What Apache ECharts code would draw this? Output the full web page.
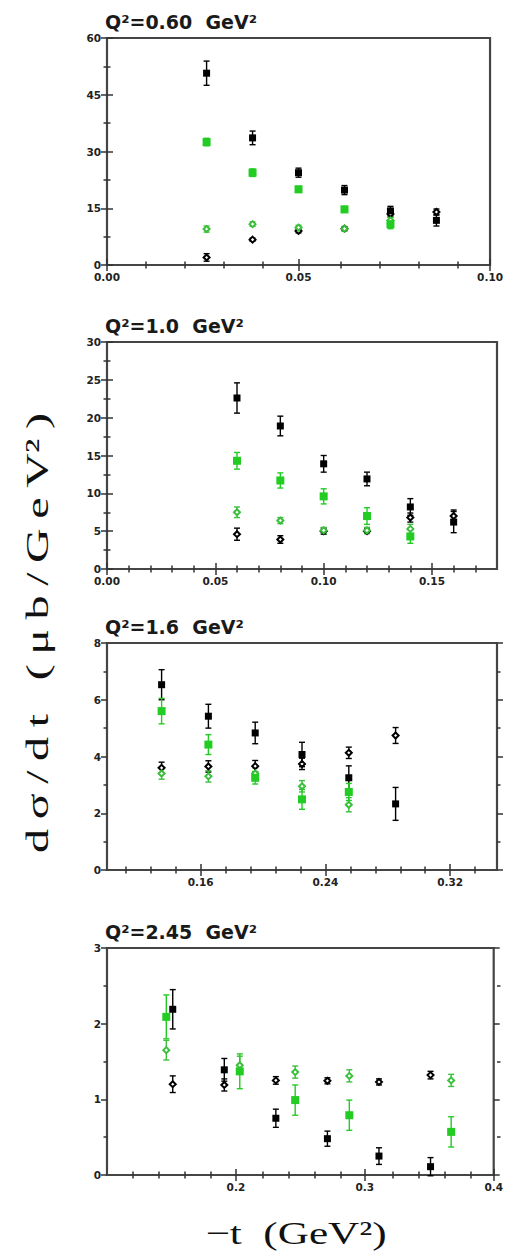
<!DOCTYPE html>
<html><head><meta charset="utf-8">
<script src="https://cdn.jsdelivr.net/npm/echarts@6/dist/echarts.min.js"></script>
<style>html,body{margin:0;padding:0;background:#fff}#c{width:506px;height:1251px}</style>
</head><body><div id="c"></div>
<script>
// ================= DATA =================
// Panel 1: Q^2 = 0.60 GeV^2
const q060_title = 'Q²=0.60  GeV²';
const q060_t = [0.026, 0.038, 0.050, 0.062, 0.074, 0.086];
const q060_tGreen = [0.026, 0.038, 0.050, 0.062, 0.074];
const q060_blackFilled = [50.7, 33.6, 24.4, 19.8, 14.3, 11.8];
const q060_blackFilledErr = [3.2, 1.8, 1.2, 1.2, 1.2, 1.5];
const q060_greenFilled = [32.5, 24.4, 20.0, 14.7, 10.8];
const q060_greenFilledErr = [1.0, 1.0, 0.8, 0.8, 1.2];
const q060_greenOpen = [9.5, 10.8, 9.9, 9.6, 11.8];
const q060_greenOpenErr = [0.8, 0.6, 0.6, 0.6, 0.8];
const q060_blackOpen = [2.0, 6.7, 9.0, 9.6, 13.5, 14.0];
const q060_blackOpenErr = [1.0, 0.4, 0.5, 0.5, 0.8, 0.8];
const q060_xLabels = [0, 0.05, 0.10];
const q060_xMinor = [0.01, 0.02, 0.03, 0.04, 0.06, 0.07, 0.08, 0.09];
const q060_yLabels = [0, 15, 30, 45, 60];
const q060_yMinor = [7.5, 22.5, 37.5, 52.5];

// Panel 2: Q^2 = 1.0 GeV^2
const q100_title = 'Q²=1.0  GeV²';
const q100_t = [0.06, 0.08, 0.10, 0.12, 0.14, 0.16];
const q100_tGreen = [0.06, 0.08, 0.10, 0.12, 0.14];
const q100_blackFilled = [22.6, 18.9, 13.9, 11.9, 8.2, 6.2];
const q100_blackFilledErr = [2.0, 1.3, 1.1, 0.9, 1.1, 1.4];
const q100_greenFilled = [14.3, 11.7, 9.6, 7.0, 4.3];
const q100_greenFilledErr = [1.1, 1.0, 1.0, 1.1, 0.9];
const q100_greenOpen = [7.5, 6.4, 5.1, 5.1, 5.3];
const q100_greenOpenErr = [0.7, 0.4, 0.4, 0.4, 0.6];
const q100_blackOpen = [4.6, 3.9, 5.0, 5.0, 6.8, 7.0];
const q100_blackOpenErr = [0.8, 0.5, 0.4, 0.3, 0.6, 0.8];
const q100_xLabels = [0, 0.05, 0.10, 0.15];
const q100_xMinor = [0.01, 0.02, 0.03, 0.04, 0.06, 0.07, 0.08, 0.09, 0.11, 0.12, 0.13, 0.14, 0.16, 0.17];
const q100_yLabels = [0, 5, 10, 15, 20, 25, 30];
const q100_yMinor = [2.5, 7.5, 12.5, 17.5, 22.5, 27.5];

// Panel 3: Q^2 = 1.6 GeV^2
const q160_title = 'Q²=1.6  GeV²';
const q160_t = [0.135, 0.165, 0.195, 0.225, 0.255, 0.285];
const q160_tGreen = [0.135, 0.165, 0.195, 0.225, 0.255];
const q160_blackFilled = [6.53, 5.42, 4.83, 4.07, 3.25, 2.33];
const q160_blackFilledErr = [0.53, 0.42, 0.38, 0.43, 0.42, 0.58];
const q160_greenFilled = [5.6, 4.42, 3.25, 2.49, 2.75];
const q160_greenFilledErr = [0.45, 0.35, 0.22, 0.35, 0.3];
const q160_greenOpen = [3.4, 3.3, 3.4, 2.95, 2.3];
const q160_greenOpenErr = [0.2, 0.2, 0.2, 0.2, 0.25];
const q160_blackOpen = [3.6, 3.65, 3.66, 3.74, 4.13, 4.74];
const q160_blackOpenErr = [0.2, 0.2, 0.2, 0.2, 0.2, 0.28];
const q160_xLabels = [0.16, 0.24, 0.32];
const q160_xMinor = [0.112, 0.128, 0.144, 0.176, 0.192, 0.208, 0.224, 0.256, 0.272, 0.288, 0.304, 0.336];
const q160_yLabels = [0, 2, 4, 6, 8];
const q160_yMinor = [1, 3, 5, 7];

// Panel 4: Q^2 = 2.45 GeV^2
const q245_title = 'Q²=2.45  GeV²';
const q245_t = [0.151, 0.191, 0.231, 0.271, 0.311, 0.351];
const q245_tGreen = [0.146, 0.203, 0.246, 0.288, 0.367];
const q245_blackFilled = [2.19, 1.39, 0.75, 0.48, 0.25, 0.11];
const q245_blackFilledErr = [0.26, 0.15, 0.12, 0.10, 0.11, 0.12];
const q245_greenFilled = [2.09, 1.37, 0.99, 0.79, 0.57];
const q245_greenFilledErr = [0.29, 0.23, 0.20, 0.20, 0.20];
const q245_greenOpen = [1.65, 1.45, 1.36, 1.31, 1.25];
const q245_greenOpenErr = [0.13, 0.12, 0.08, 0.08, 0.08];
const q245_blackOpen = [1.20, 1.19, 1.25, 1.245, 1.23, 1.32];
const q245_blackOpenErr = [0.11, 0.08, 0.05, 0.04, 0.04, 0.05];
const q245_xLabels = [0.2, 0.3, 0.4];
const q245_xMinor = [0.12, 0.14, 0.16, 0.18, 0.22, 0.24, 0.26, 0.28, 0.32, 0.34, 0.36, 0.38];
const q245_yLabels = [0, 1, 2, 3];
const q245_yMinor = [0.5, 1.5, 2.5];

const yTitle = 'd\u2009σ\u2009/\u2009d\u2009t\u2002\u2009(\u2009μ\u2009b\u2009/\u2009G\u2009e\u2009V²\u2009)';
const xTitle = '−t  (GeV²)';

// ================= BUILD =================
const panels = [
  {title: q060_title, xr: [0, 0.10], yr: [0, 60], xd: 2, xLab: q060_xLabels, xMin: q060_xMinor, yLab: q060_yLabels, yMin: q060_yMinor,
   series: [[q060_t, q060_blackOpen, q060_blackOpenErr, 'bo'], [q060_tGreen, q060_greenOpen, q060_greenOpenErr, 'go'],
            [q060_t, q060_blackFilled, q060_blackFilledErr, 'bf'], [q060_tGreen, q060_greenFilled, q060_greenFilledErr, 'gf']]},
  {title: q100_title, xr: [0, 0.18], yr: [0, 30], xd: 2, xLab: q100_xLabels, xMin: q100_xMinor, yLab: q100_yLabels, yMin: q100_yMinor,
   series: [[q100_t, q100_blackOpen, q100_blackOpenErr, 'bo'], [q100_tGreen, q100_greenOpen, q100_greenOpenErr, 'go'],
            [q100_t, q100_blackFilled, q100_blackFilledErr, 'bf'], [q100_tGreen, q100_greenFilled, q100_greenFilledErr, 'gf']]},
  {title: q160_title, xr: [0.10, 0.35], yr: [0, 8], xd: 2, xLab: q160_xLabels, xMin: q160_xMinor, yLab: q160_yLabels, yMin: q160_yMinor,
   series: [[q160_t, q160_blackOpen, q160_blackOpenErr, 'bo'], [q160_tGreen, q160_greenOpen, q160_greenOpenErr, 'go'],
            [q160_t, q160_blackFilled, q160_blackFilledErr, 'bf'], [q160_tGreen, q160_greenFilled, q160_greenFilledErr, 'gf']]},
  {title: q245_title, xr: [0.10, 0.40], yr: [0, 3], xd: 1, xLab: q245_xLabels, xMin: q245_xMinor, yLab: q245_yLabels, yMin: q245_yMinor,
   series: [[q245_t, q245_blackOpen, q245_blackOpenErr, 'bo'], [q245_tGreen, q245_greenOpen, q245_greenOpenErr, 'go'],
            [q245_t, q245_blackFilled, q245_blackFilledErr, 'bf'], [q245_tGreen, q245_greenFilled, q245_greenFilledErr, 'gf']]}
];

const GREEN = '#22cc22';
const GREEN_OPEN = '#3cbf3c';
const STY = {
  bf: {symbol: 'rect', size: 7, color: '#000000'},
  gf: {symbol: 'rect', size: 8, color: GREEN},
  bo: {symbol: 'emptyDiamond', size: 6, color: '#000000'},
  go: {symbol: 'emptyDiamond', size: 6, color: GREEN_OPEN}
};

const gridTops = [38, 342, 643, 948];
const GRID_LEFT = 107, GRID_RIGHT = 9, GRID_H = 227;
const FRAME = '#454545';
const tickStyle = {color: '#333', width: 1.5};
const labelStyle = {fontFamily: 'DejaVu Sans', fontWeight: 'bold', fontSize: 10.5, color: '#222', margin: 6};

const grids = [], xAxes = [], yAxes = [], series = [], graphics = [];

function errRender(color) {
  return function (params, api) {
    const x = api.value(0), y = api.value(1), e = api.value(2);
    const lo = api.coord([x, y - e]);
    const hi = api.coord([x, y + e]);
    const w = 3;
    const st = {stroke: color, lineWidth: 1.4};
    return {type: 'group', children: [
      {type: 'line', shape: {x1: lo[0], y1: lo[1], x2: hi[0], y2: hi[1]}, style: st},
      {type: 'line', shape: {x1: lo[0] - w, y1: lo[1], x2: lo[0] + w, y2: lo[1]}, style: st},
      {type: 'line', shape: {x1: hi[0] - w, y1: hi[1], x2: hi[0] + w, y2: hi[1]}, style: st}
    ]};
  };
}

panels.forEach((p, i) => {
  const top = gridTops[i];
  grids.push({left: GRID_LEFT, right: GRID_RIGHT, top: top, height: GRID_H, show: true,
              borderColor: FRAME, borderWidth: 2.2, backgroundColor: 'transparent'});
  grids.push({left: GRID_LEFT, right: GRID_RIGHT, top: top, height: GRID_H, show: false});
  const gMain = 2 * i, gOver = 2 * i + 1;
  const xb = {type: 'value', min: p.xr[0], max: p.xr[1], splitLine: {show: false}, axisLine: {show: false}};
  const yb = {type: 'value', min: p.yr[0], max: p.yr[1], splitLine: {show: false}, axisLine: {show: false}};
  xAxes.push(Object.assign({}, xb, {gridIndex: gMain, position: 'bottom',
    axisTick: {show: true, length: 6, customValues: p.xLab, lineStyle: tickStyle},
    axisLabel: Object.assign({show: true, customValues: p.xLab, formatter: v => Number(v).toFixed(p.xd)}, labelStyle)}));
  xAxes.push(Object.assign({}, xb, {gridIndex: gMain, position: 'top',
    axisTick: {show: true, length: 6, customValues: p.xLab, lineStyle: tickStyle}, axisLabel: {show: false}}));
  xAxes.push(Object.assign({}, xb, {gridIndex: gOver, position: 'bottom',
    axisTick: {show: true, length: 3.5, customValues: p.xMin, lineStyle: tickStyle}, axisLabel: {show: false}}));
  xAxes.push(Object.assign({}, xb, {gridIndex: gOver, position: 'top',
    axisTick: {show: true, length: 3.5, customValues: p.xMin, lineStyle: tickStyle}, axisLabel: {show: false}}));
  yAxes.push(Object.assign({}, yb, {gridIndex: gMain, position: 'left',
    axisTick: {show: true, length: 6, customValues: p.yLab, lineStyle: tickStyle},
    axisLabel: Object.assign({show: true, customValues: p.yLab, formatter: v => String(Math.round(v))}, labelStyle)}));
  yAxes.push(Object.assign({}, yb, {gridIndex: gMain, position: 'right',
    axisTick: {show: true, length: 6, customValues: p.yLab, lineStyle: tickStyle}, axisLabel: {show: false}}));
  yAxes.push(Object.assign({}, yb, {gridIndex: gOver, position: 'left',
    axisTick: {show: true, length: 3.5, customValues: p.yMin, lineStyle: tickStyle}, axisLabel: {show: false}}));
  yAxes.push(Object.assign({}, yb, {gridIndex: gOver, position: 'right',
    axisTick: {show: true, length: 3.5, customValues: p.yMin, lineStyle: tickStyle}, axisLabel: {show: false}}));

  const xi = 4 * i, yi = 4 * i;
  p.series.forEach(([xs, ys, es, key]) => {
    const s = STY[key];
    const data = xs.map((x, k) => [x, ys[k], es[k]]);
    series.push({type: 'custom', xAxisIndex: xi, yAxisIndex: yi, z: 2, silent: true,
      renderItem: errRender(s.color), encode: {x: 0, y: 1}, data: data, clip: false});
    series.push({type: 'scatter', xAxisIndex: xi, yAxisIndex: yi, z: 3, silent: true,
      symbol: s.symbol, symbolSize: s.size, data: data.map(d => [d[0], d[1]]),
      itemStyle: {color: s.color, borderColor: s.color, borderWidth: key.endsWith('o') ? 1.3 : 0, opacity: 1}});
  });

  graphics.push({type: 'text', x: 105, y: top - 16,
    style: {text: p.title, font: 'bold 19px "DejaVu Sans"', fill: '#1a1a1a', align: 'left', verticalAlign: 'middle'}});
});

graphics.push({type: 'text', x: 37, y: 633, rotation: Math.PI / 2, scaleX: 1.5, scaleY: 1,
  style: {text: yTitle, font: '32px "Liberation Serif"', fill: '#111', align: 'center', verticalAlign: 'middle'}});
graphics.push({type: 'text', x: 296, y: 1233, scaleX: 1.35, scaleY: 1,
  style: {text: xTitle, font: '32px "Liberation Serif"', fill: '#111', align: 'center', verticalAlign: 'middle'}});

const chart = echarts.init(document.getElementById('c'), null, {renderer: 'svg'});
chart.setOption({
  animation: false,
  backgroundColor: '#ffffff',
  grid: grids,
  xAxis: xAxes,
  yAxis: yAxes,
  series: series,
  graphic: graphics
});
</script></body></html>
